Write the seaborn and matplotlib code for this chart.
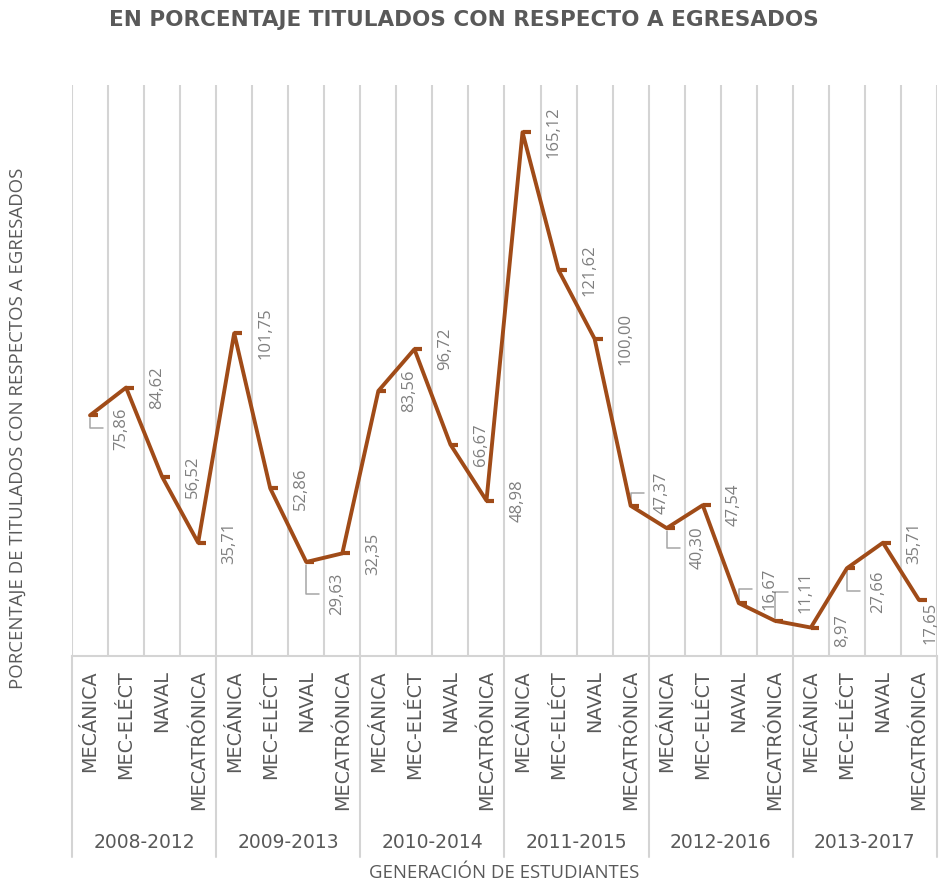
import numpy as np
import pandas as pd
import matplotlib
matplotlib.use("Agg")
import matplotlib.pyplot as plt
import matplotlib.transforms as mtransforms
from matplotlib.path import Path
import seaborn as sns

# ---- data ----
generations = ["2008-2012", "2009-2013", "2010-2014", "2011-2015", "2012-2016", "2013-2017"]
careers = ["MECÁNICA", "MEC-ELÉCT", "NAVAL", "MECATRÓNICA"]
values = [75.86, 84.62, 56.52, 35.71,
          101.75, 52.86, 29.63, 32.35,
          83.56, 96.72, 66.67, 48.98,
          165.12, 121.62, 100.00, 47.37,
          40.30, 47.54, 16.67, 11.11,
          8.97, 27.66, 35.71, 17.65]
value_labels = ["75,86", "84,62", "56,52", "35,71",
                "101,75", "52,86", "29,63", "32,35",
                "83,56", "96,72", "66,67", "48,98",
                "165,12", "121,62", "100,00", "47,37",
                "40,30", "47,54", "16,67", "11,11",
                "8,97", "27,66", "35,71", "17,65"]

# label placement (pixels; dy positive = downward), leader flags
label_dx = [31] * 23 + [12]
label_dy = [13, 0, 0, 0, 0, 0, 32, 0, 0, 0, 0, 0,
            0, 0, 0, -13, 20, 0, -14, -29, 3, 23, 0, 23]
leaders = [1, 0, 0, 0, 0, 0, 1, 0, 0, 0, 0, 0,
           0, 0, 0, 1, 1, 0, 1, 1, 0, 1, 0, 0]

cats = [c for g in generations for c in careers]
df = pd.DataFrame({"pos": np.arange(len(values)), "value": values, "cat": cats})

LINE = "#A04B18"
GRID = "#D4D4D4"
TXT = "#595959"
LBL = "#7F7F7F"

sns.set_style("white")
plt.rcParams["font.family"] = ["Open Sans", "DejaVu Sans"]

W, H = 943, 882
fig = plt.figure(figsize=(W / 100, H / 100), dpi=100)
left, right, top, bottom = 72, 937, 85, 656
ax = fig.add_axes([left / W, 1 - bottom / H, (right - left) / W, (bottom - top) / H])

dash = Path([(0, 0), (1, 0)], [Path.MOVETO, Path.LINETO])
sns.lineplot(data=df, x="pos", y="value", ax=ax, color=LINE, lw=2.8,
             marker=dash, markersize=12, markeredgewidth=3.0,
             markeredgecolor=LINE, sort=False, zorder=5)

n = len(values)
ax.set_xlim(-0.5, n - 0.5)
ax.set_ylim(0, 180)
ax.set_yticks([])
ax.set_xlabel("")
ax.set_ylabel("")
for s in ["left", "right", "top"]:
    ax.spines[s].set_visible(False)
ax.spines["bottom"].set_color(GRID)
ax.spines["bottom"].set_linewidth(1.5)

# vertical grid at category boundaries
ax.set_xticks(np.arange(-0.5, n, 1), minor=True)
ax.grid(which="minor", axis="x", color=GRID, lw=1.5)
ax.tick_params(axis="x", which="minor", length=0)

ax.set_xticks(np.arange(n))
ax.set_xticklabels(cats, rotation=90, fontsize=13.8, color=TXT,
                   family="DejaVu Sans")
ax.tick_params(axis="x", which="major", length=0, pad=10)

# group separators and group labels
trans = mtransforms.blended_transform_factory(ax.transData, ax.transAxes)
ax_h = bottom - top
sep_y = -(857 - bottom) / ax_h
for k in range(len(generations) + 1):
    xb = k * 4 - 0.5
    ax.plot([xb, xb], [0, sep_y], transform=trans, color=GRID, lw=1.5,
            clip_on=False)
grp_y = -(843 - bottom) / ax_h
for k, g in enumerate(generations):
    ax.text(k * 4 + 1.5, grp_y, g, transform=trans, ha="center", va="center",
            fontsize=13.5, color=TXT, family="DejaVu Sans")

# data labels
px = 0.72
for i, (v, t) in enumerate(zip(values, value_labels)):
    ax.annotate(t, xy=(i, v), xytext=(label_dx[i] * px, -label_dy[i] * px),
                textcoords="offset points", rotation=90, ha="center",
                va="center", fontsize=12, color=LBL, zorder=6)
    if leaders[i]:
        ax.annotate("", xy=(i, v), xytext=(13 * px, -label_dy[i] * px),
                    textcoords="offset points",
                    arrowprops=dict(arrowstyle="-", color="#A6A6A6", lw=1.1,
                                    shrinkA=0, shrinkB=2,
                                    connectionstyle="angle,angleA=0,angleB=90,rad=0"),
                    zorder=4)

fig.text(464 / W, 1 - 20 / H, "EN PORCENTAJE TITULADOS CON RESPECTO A EGRESADOS",
         ha="center", va="center", fontsize=15.5, fontweight="bold", color=TXT,
         family="DejaVu Sans")
fig.text(18 / W, 1 - 428 / H, "PORCENTAJE DE TITULADOS CON RESPECTOS A EGRESADOS",
         rotation=90, ha="center", va="center", fontsize=13.4, color=TXT)
fig.text((left + right) / 2 / W, 1 - 873 / H, "GENERACIÓN DE ESTUDIANTES",
         ha="center", va="center", fontsize=13.4, color=TXT)

fig.savefig("out.png", dpi=100)
